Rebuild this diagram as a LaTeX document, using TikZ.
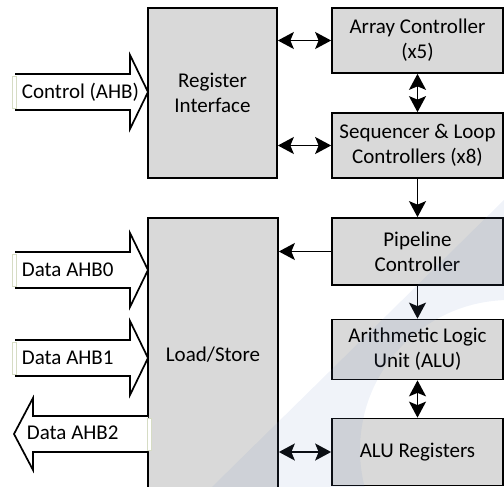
\documentclass[tikz,border=0pt]{standalone}
\usepackage{fontspec}
\setmainfont{Carlito}
\usetikzlibrary{arrows.meta}

\definecolor{blockgray}{RGB}{217,217,217}
\definecolor{markblue}{RGB}{110,140,200}
\definecolor{framegreen}{RGB}{214,220,196}

\tikzset{
    unit/.style={draw, fill=blockgray, line width=1.7pt, inner sep=0pt,
        align=center, font=\fontsize{21}{25}\selectfont},
    ctrl/.style={unit, minimum width=171pt},
    bus/.style={draw, fill=white, line width=1.7pt, line join=miter},
    textframe/.style={draw=framegreen, fill=white, line width=0.8pt},
    buslabel/.style={anchor=west, inner sep=0pt, font=\fontsize{21}{25}\selectfont},
}

\begin{document}
\begin{tikzpicture}[x=1pt, y=-1pt, line width=1.8pt,
        >={Stealth[length=16pt,width=17pt,inset=3.5pt]}]
    \useasboundingbox (0,0) rectangle (504,487);
    \clip (0,0) rectangle (504,487);

    % blocks
    \node[unit, minimum width=129pt, minimum height=170pt] (reg) at (212.5,93) {Register\\Interface};
    \node[unit, minimum width=130pt, minimum height=274pt] (ls) at (213,355) {Load/Store};

    \node[ctrl, minimum height=65pt] (array)  at (417.5,40.5)  {Array Controller\\(x5)};
    \node[ctrl, minimum height=65pt] (seq)    at (417.5,145.5) {Sequencer \& Loop\\Controllers (x8)};
    \node[ctrl, minimum height=67pt] (pipe)   at (417.5,251.5) {Pipeline\\Controller};
    \node[ctrl, minimum height=60pt] (alu)    at (417.5,349.5) {Arithmetic Logic\\Unit (ALU)};
    \node[ctrl, minimum height=67pt] (alureg) at (417.5,452)   {ALU Registers};

    % links
    \draw[<->] (reg.east |- array.west) -- (array.west);
    \draw[<->] (reg.east |- seq.west) -- (seq.west);
    \draw[<->] (array) -- (seq);
    \draw[->] (seq) -- (pipe);
    \draw[->] (pipe.west) -- (pipe.west -| ls.east);
    \draw[->] (pipe) -- (alu);
    \draw[<->] (alu) -- (alureg);
    \draw[<->] (ls.east |- alureg.west) -- (alureg.west);

    % AHB ports in
    \foreach \yc/\lbl/\txt in {92/ctl/{Control (AHB)}, 270/ahb0/{Data AHB0}, 358/ahb1/{Data AHB1}} {
        \draw[bus] (15,\yc-18) -- (130,\yc-18) -- (130,\yc-37) -- (148,\yc)
            -- (130,\yc+37) -- (130,\yc+18) -- (15,\yc+18);
        \draw[textframe] (12,\yc-16) rectangle (16,\yc+16);
        \node[buslabel] (\lbl) at (21,\yc) {\txt};
    }

    % AHB port out
    \draw[bus] (148,416) -- (33,416) -- (33,398) -- (14,434)
        -- (33,470) -- (33,452) -- (148,452);
    \draw[textframe] (147,418) rectangle (151,450);
    \node[buslabel] (ahb2) at (26,433) {Data AHB2};

    % watermark
    \fill[markblue, fill opacity=0.1, even odd rule]
        (212,487) -- (504,200) -- (504,487) -- cycle
        (510,450) circle[radius=150];
\end{tikzpicture}
\end{document}
